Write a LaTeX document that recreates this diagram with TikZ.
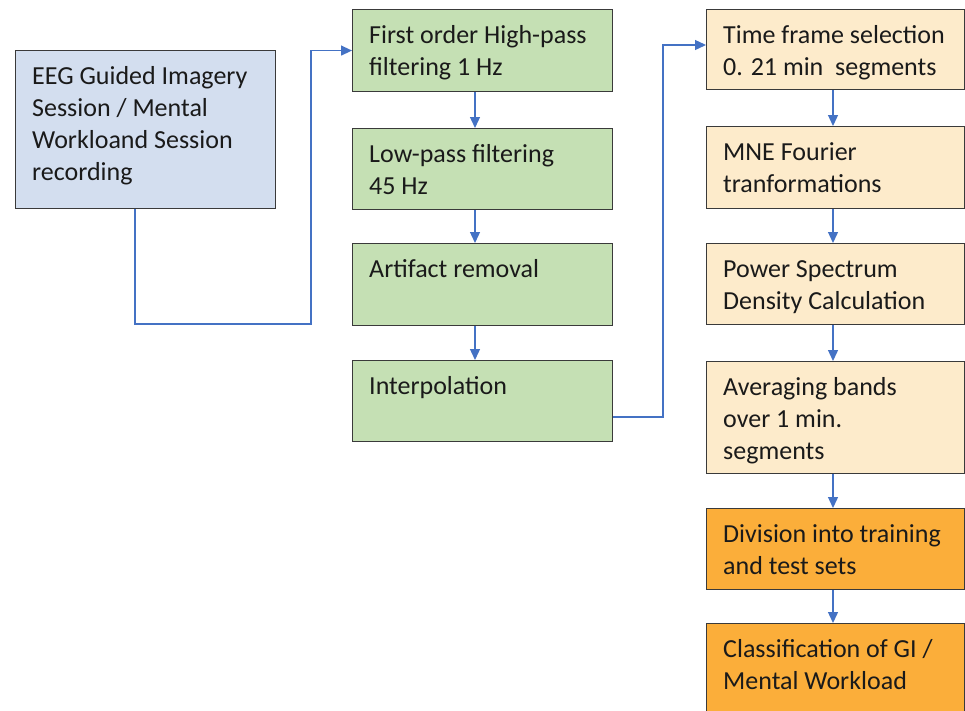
\documentclass[tikz,border=0pt]{standalone}
\usepackage{fontspec}
\setmainfont{Carlito}
\usetikzlibrary{arrows.meta,calc}
\definecolor{bluefill}{HTML}{D3DEEF}
\definecolor{greenfill}{HTML}{C5E0B4}
\definecolor{peach}{HTML}{FDEBCB}
\definecolor{orangefill}{HTML}{FBAE3A}
\definecolor{arrowblue}{HTML}{4472C4}
\definecolor{edge}{HTML}{3A3A3A}
\definecolor{txt}{HTML}{1A1A1A}
\tikzset{
  box/.style={draw=edge, line width=1.1pt, anchor=north west, inner sep=0pt},
  bluebox/.style={box, fill=bluefill},
  greenbox/.style={box, fill=greenfill},
  peachbox/.style={box, fill=peach},
  orangebox/.style={box, fill=orangefill},
  lbl/.style={anchor=north west, inner sep=0pt, align=left, text=txt,
    font=\fontsize{26pt}{32pt}\selectfont},
  conn/.style={draw=arrowblue, line width=1.3pt, -{Triangle[length=11pt,width=10pt]}},
}
\newcommand{\fl}{\rule{0pt}{22pt}}
\begin{document}
\begin{tikzpicture}[x=1pt,y=-1pt]
\useasboundingbox (0,0) rectangle (965,710);
\begin{scope}
\clip (0,0) rectangle (965,710);
% left box
\node[bluebox, minimum width=260pt, minimum height=158pt] (blue) at (15,50) {};
\node[lbl] (bluet) at ($(blue.north west)+(17,12)$) {\fl EEG Guided Imagery\\Session / Mental\\Workloand Session\\recording};
% green column
\node[greenbox, minimum width=260pt, minimum height=82pt] (g1) at (352,9) {};
\node[greenbox, minimum width=260pt, minimum height=81pt] (g2) at (352,128) {};
\node[greenbox, minimum width=260pt, minimum height=82pt] (g3) at (352,243) {};
\node[greenbox, minimum width=260pt, minimum height=81pt] (g4) at (352,360) {};
\node[lbl] (g1t) at ($(g1.north west)+(17,12)$) {\fl First order High-pass\\filtering 1 Hz};
\node[lbl] (g2t) at ($(g2.north west)+(17,12)$) {\fl Low-pass filtering\\45 Hz};
\node[lbl] (g3t) at ($(g3.north west)+(17,12)$) {\fl Artifact removal};
\node[lbl] (g4t) at ($(g4.north west)+(17,12)$) {\fl Interpolation};
% right column
\node[peachbox, minimum width=258pt, minimum height=80pt] (o1) at (706,9) {};
\node[peachbox, minimum width=258pt, minimum height=82pt] (o2) at (706,126) {};
\node[peachbox, minimum width=258pt, minimum height=81pt] (o3) at (706,243) {};
\node[peachbox, minimum width=258pt, minimum height=112pt] (o4) at (706,361) {};
\node[orangebox, minimum width=258pt, minimum height=81pt] (o5) at (706,508) {};
\node[orangebox, minimum width=258pt, minimum height=100pt] (o6) at (706,623) {};
\node[lbl] (o1t) at ($(o1.north west)+(17,12)$) {\fl Time frame selection\\0. 21 min\ \ segments};
\node[lbl] (o2t) at ($(o2.north west)+(17,12)$) {\fl MNE Fourier\\tranformations};
\node[lbl] (o3t) at ($(o3.north west)+(17,12)$) {\fl Power Spectrum\\Density Calculation};
\node[lbl] (o4t) at ($(o4.north west)+(17,12)$) {\fl Averaging bands\\over 1 min.\\segments};
\node[lbl] (o5t) at ($(o5.north west)+(17,12)$) {\fl Division into training\\and test sets};
\node[lbl] (o6t) at ($(o6.north west)+(17,12)$) {\fl Classification of GI /\\Mental Workload};
% connector coordinates
\coordinate (bx) at (135,0);
\coordinate (c1) at (311,324);
\coordinate (gx) at (475,0);
\coordinate (ox) at (833,0);
\coordinate (c2) at (663,417);
\coordinate (o1in) at (706,45);
% connectors
\draw[conn] (blue.south -| bx) |- (c1) |- (g1.west);
\draw[conn] (g1.south -| gx) -- (g2.north -| gx);
\draw[conn] (g2.south -| gx) -- (g3.north -| gx);
\draw[conn] (g3.south -| gx) -- (g4.north -| gx);
\draw[conn] (c2 -| g4.east) -- (c2) |- (o1in);
\draw[conn] (o1.south -| ox) -- (o2.north -| ox);
\draw[conn] (o2.south -| ox) -- (o3.north -| ox);
\draw[conn] (o3.south -| ox) -- (o4.north -| ox);
\draw[conn] (o4.south -| ox) -- (o5.north -| ox);
\draw[conn] (o5.south -| ox) -- (o6.north -| ox);
\end{scope}
\end{tikzpicture}
\end{document}
